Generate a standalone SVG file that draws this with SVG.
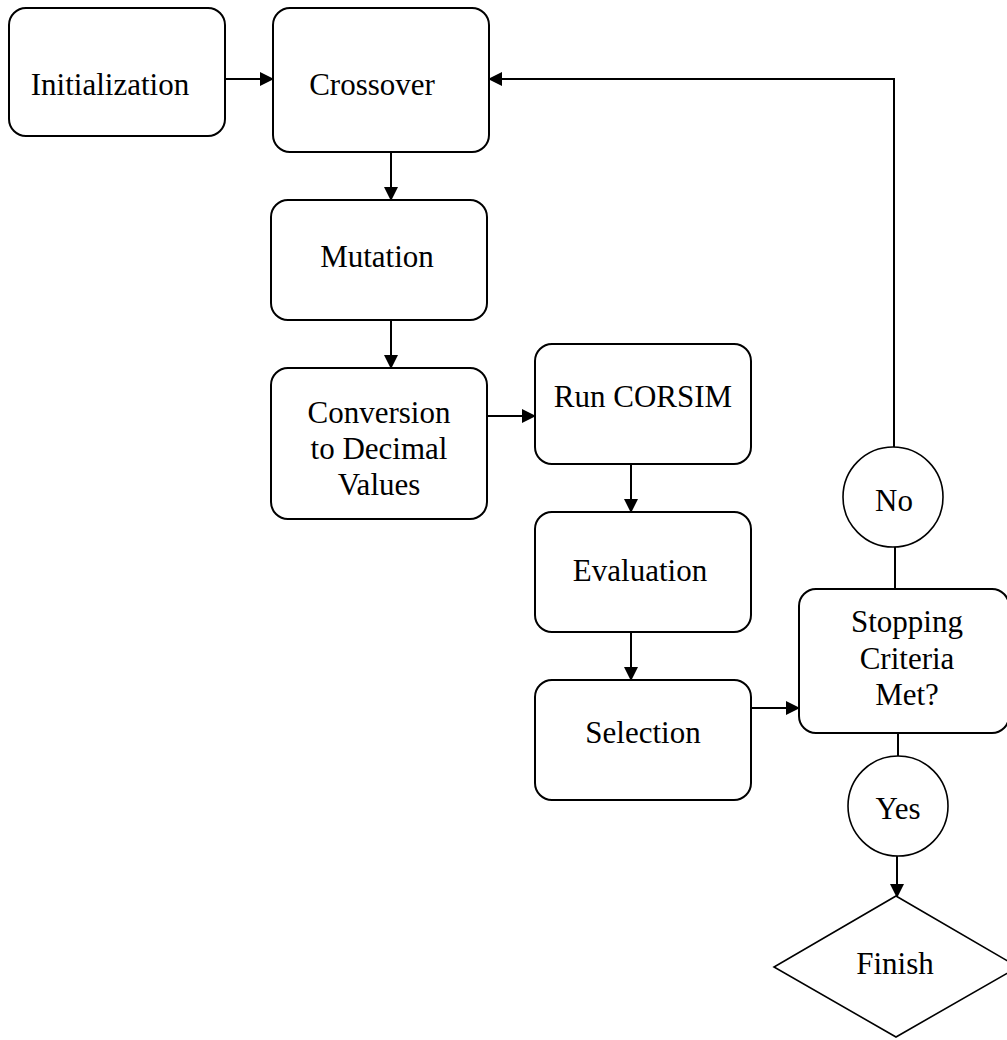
<svg xmlns="http://www.w3.org/2000/svg" width="1007" height="1040" viewBox="0 0 1007 1040">
<style>
.box{fill:#fff;stroke:#000;stroke-width:2}
.circ{fill:#fff;stroke:#000;stroke-width:1.6}
.t{font-family:"Liberation Serif","Times New Roman",serif;font-size:31px;fill:#000;text-anchor:middle}
.c{fill:none;stroke:#000;stroke-width:2}
</style>
<defs>
<marker id="ah" markerWidth="14" markerHeight="14" refX="13" refY="7" orient="auto" markerUnits="userSpaceOnUse">
<path d="M0,0 L14,7 L0,14 Z" fill="#000"/>
</marker>
</defs>
<rect width="1007" height="1040" fill="#fff"/>
<g id="connectors">
<line class="c" x1="223" y1="79" x2="273" y2="79" marker-end="url(#ah)"/>
<line class="c" x1="391" y1="152" x2="391" y2="200" marker-end="url(#ah)"/>
<line class="c" x1="391" y1="320" x2="391" y2="368" marker-end="url(#ah)"/>
<line class="c" x1="487" y1="416" x2="535" y2="416" marker-end="url(#ah)"/>
<line class="c" x1="631" y1="464" x2="631" y2="512" marker-end="url(#ah)"/>
<line class="c" x1="631" y1="632" x2="631" y2="680" marker-end="url(#ah)"/>
<line class="c" x1="751" y1="708" x2="799" y2="708" marker-end="url(#ah)"/>
<line class="c" x1="895" y1="589" x2="895" y2="547"/>
<polyline class="c" points="894,447 894,79 489,79" marker-end="url(#ah)"/>
<line class="c" x1="898" y1="733" x2="898" y2="756"/>
<line class="c" x1="897" y1="856" x2="897" y2="897" marker-end="url(#ah)"/>
</g>
<g id="initialization">
<rect class="box" x="9" y="8" width="216" height="128" rx="17"/>
<text class="t" x="110" y="95">Initialization</text>
</g>
<g id="crossover">
<rect class="box" x="273" y="8" width="216" height="144" rx="17"/>
<text class="t" x="372" y="95">Crossover</text>
</g>
<g id="mutation">
<rect class="box" x="271" y="200" width="216" height="120" rx="17"/>
<text class="t" x="377" y="267">Mutation</text>
</g>
<g id="conversion">
<rect class="box" x="271" y="368" width="216" height="151" rx="17"/>
<text class="t" x="379" y="423">Conversion</text>
<text class="t" x="379" y="459">to Decimal</text>
<text class="t" x="379" y="495">Values</text>
</g>
<g id="run-corsim">
<rect class="box" x="535" y="344" width="216" height="120" rx="17"/>
<text class="t" x="643" y="407">Run CORSIM</text>
</g>
<g id="evaluation">
<rect class="box" x="535" y="512" width="216" height="120" rx="17"/>
<text class="t" x="640" y="581">Evaluation</text>
</g>
<g id="selection">
<rect class="box" x="535" y="680" width="216" height="120" rx="17"/>
<text class="t" x="643" y="743">Selection</text>
</g>
<g id="stopping">
<rect class="box" x="799" y="589" width="210" height="144" rx="17"/>
<text class="t" x="907" y="632">Stopping</text>
<text class="t" x="907" y="669">Criteria</text>
<text class="t" x="907" y="705">Met?</text>
</g>
<g id="no">
<circle class="circ" cx="893" cy="497" r="50"/>
<text class="t" x="894" y="511">No</text>
</g>
<g id="yes">
<circle class="circ" cx="898" cy="806" r="50"/>
<text class="t" x="898" y="819">Yes</text>
</g>
<g id="finish">
<polygon class="circ" points="896,896 1018,967 896,1037 774,967"/>
<text class="t" x="895" y="974">Finish</text>
</g>
</svg>
